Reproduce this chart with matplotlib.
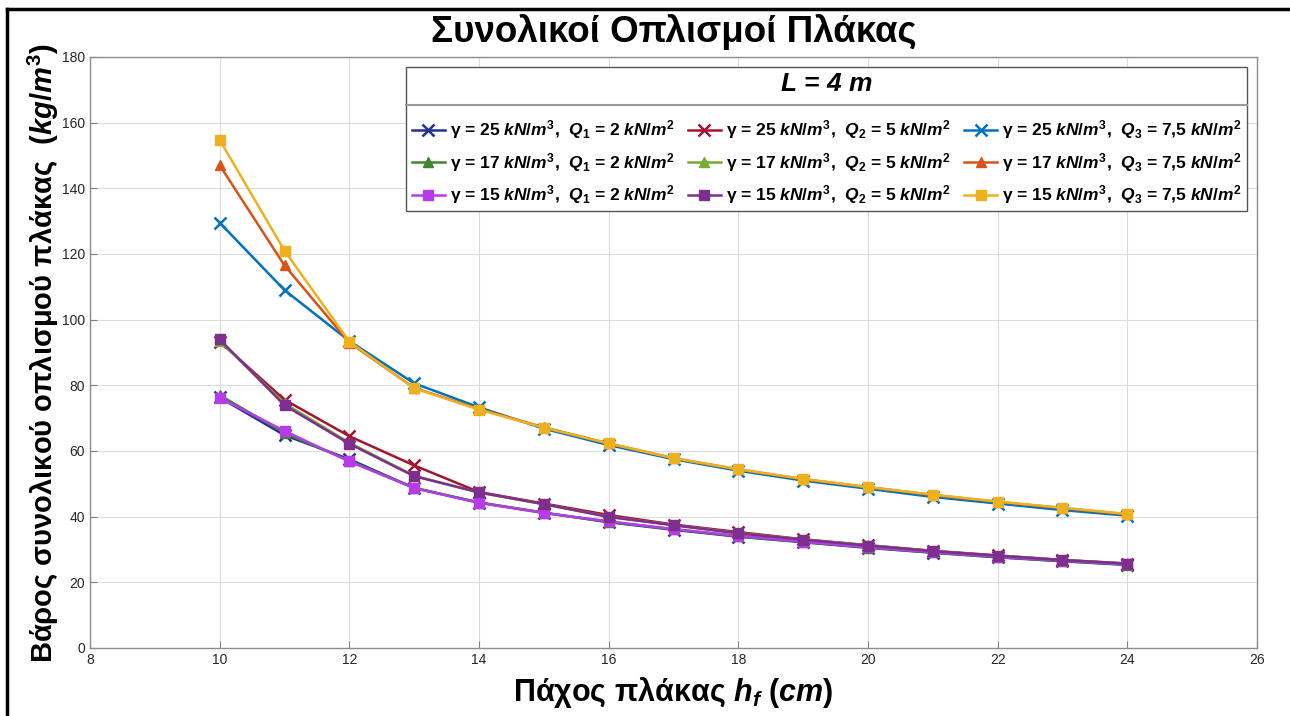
import matplotlib
matplotlib.use("Agg")
import matplotlib.pyplot as plt
from matplotlib.lines import Line2D

plt.rcParams['font.family'] = ['Liberation Sans', 'DejaVu Sans']
plt.rcParams['mathtext.fontset'] = 'custom'
plt.rcParams['mathtext.rm'] = 'Liberation Sans:bold'
plt.rcParams['mathtext.it'] = 'Liberation Sans:italic:bold'
plt.rcParams['mathtext.bf'] = 'Liberation Sans:bold'

hf = [10, 11, 12, 13, 14, 15, 16, 17, 18, 19, 20, 21, 22, 23, 24]

g25_q1 = [76.3, 64.8, 57.5, 48.7, 44.3, 41.2, 38.3, 36.0, 33.9, 32.2, 30.5, 29.0, 27.6, 26.4, 25.3]
g25_q2 = [93.3, 75.6, 64.5, 55.6, 47.5, 44.0, 40.5, 37.6, 35.3, 33.1, 31.3, 29.6, 28.2, 26.8, 25.7]
g25_q3 = [129.5, 109.0, 93.5, 80.6, 73.3, 66.8, 61.8, 57.5, 54.0, 51.0, 48.5, 46.0, 44.0, 42.0, 40.3]
g17_q1 = [77.0, 65.5, 57.0, 48.8, 44.3, 41.2, 38.4, 36.2, 34.0, 32.3, 30.6, 29.1, 27.7, 26.5, 25.4]
g17_q2 = [93.5, 74.5, 62.5, 52.5, 47.3, 43.8, 40.0, 37.4, 35.0, 33.0, 31.3, 29.5, 28.1, 26.8, 25.7]
g17_q3 = [147.0, 116.5, 93.0, 79.2, 72.8, 67.2, 62.3, 57.8, 54.4, 51.4, 49.0, 46.6, 44.5, 42.6, 40.7]
g15_q1 = [76.2, 66.1, 56.8, 48.7, 44.2, 41.1, 38.6, 36.2, 34.2, 32.4, 30.7, 29.2, 27.8, 26.6, 25.5]
g15_q2 = [94.0, 73.9, 62.2, 52.3, 47.4, 43.8, 39.9, 37.4, 34.9, 33.0, 31.2, 29.5, 28.1, 26.8, 25.7]
g15_q3 = [154.7, 121.0, 93.3, 79.1, 72.6, 67.1, 62.3, 57.8, 54.4, 51.5, 49.0, 46.7, 44.6, 42.7, 40.8]

labels = [
    r'γ = 25 $kN/m^3$,  $Q_1$ = 2 $kN/m^2$',
    r'γ = 25 $kN/m^3$,  $Q_2$ = 5 $kN/m^2$',
    r'γ = 25 $kN/m^3$,  $Q_3$ = 7,5 $kN/m^2$',
    r'γ = 17 $kN/m^3$,  $Q_1$ = 2 $kN/m^2$',
    r'γ = 17 $kN/m^3$,  $Q_2$ = 5 $kN/m^2$',
    r'γ = 17 $kN/m^3$,  $Q_3$ = 7,5 $kN/m^2$',
    r'γ = 15 $kN/m^3$,  $Q_1$ = 2 $kN/m^2$',
    r'γ = 15 $kN/m^3$,  $Q_2$ = 5 $kN/m^2$',
    r'γ = 15 $kN/m^3$,  $Q_3$ = 7,5 $kN/m^2$',
]
series = [g25_q1, g25_q2, g25_q3, g17_q1, g17_q2, g17_q3, g15_q1, g15_q2, g15_q3]
colors = ['#24338A', '#A2142F', '#0072BD', '#3E8530', '#77AC30', '#D95319',
          '#B73CE8', '#7E2F8E', '#EDB120']
markers = ['x', 'x', 'x', '^', '^', '^', 's', 's', 's']

fig = plt.figure(figsize=(12.9, 7.16), dpi=100)
ax = fig.add_axes([0.0698, 0.095, 0.9046, 0.8254])

handles = []
for y, c, m, lab in zip(series, colors, markers, labels):
    ms = 8 if m == 'x' else 7
    mew = 1.8 if m == 'x' else 1.0
    h, = ax.plot(hf, y, color=c, marker=m, markersize=ms, markeredgewidth=mew,
                 linewidth=1.8, label=lab)
    handles.append(h)

ax.set_xlim(8, 26)
ax.set_ylim(0, 180)
ax.set_xticks(range(8, 27, 2))
ax.set_yticks(range(0, 181, 20))
ax.grid(True, color='#DCDCDC', linewidth=0.8)
ax.set_axisbelow(True)
ax.tick_params(direction='in', length=5, labelsize=10, colors='#808080',
               labelcolor='#262626', top=False, right=False, width=0.8)
for s in ax.spines.values():
    s.set_color('#8C8C8C')
    s.set_linewidth(1.0)

ax.set_xlabel(r'Πάχος πλάκας $h_f$ $(cm)$', fontsize=22, fontweight='bold', labelpad=6)
ax.set_ylabel(r'Βάρος συνολικού οπλισμού πλάκας  $(kg/m^3)$', fontsize=21,
              fontweight='bold', labelpad=1)
fig.text(0.522, 0.955, 'Συνολικοί Οπλισμοί Πλάκας', fontsize=26.5, fontweight='bold',
         ha='center', va='center')

# row-wise ordering for a 3-column legend (matplotlib fills column by column)
order = [0, 3, 6, 1, 4, 7, 2, 5, 8]
leg = ax.legend([handles[i] for i in order], [labels[i] for i in order],
                ncol=3, loc='upper right', bbox_to_anchor=(0.9914, 0.983),
                borderaxespad=0, fancybox=False, framealpha=1, edgecolor='#555555',
                prop={'size': 12.5, 'weight': 'bold'}, handlelength=1.9,
                handletextpad=0.3, columnspacing=0.75, labelspacing=0.55,
                borderpad=0.3, title=r'$L$ = 4 $m$',
                title_fontproperties={'size': 19, 'weight': 'bold', 'style': 'italic'})
leg.get_frame().set_linewidth(1.0)
leg._legend_box.sep = 16

fig.canvas.draw()
lb = leg.get_window_extent()
tb = leg.get_title().get_window_extent()
ysep = tb.y0 - 9
inv = fig.transFigure.inverted()
p0 = inv.transform((lb.x0, ysep))
p1 = inv.transform((lb.x1, ysep))
fig.add_artist(Line2D([p0[0], p1[0]], [p0[1], p0[1]], color='#999999',
                      linewidth=1.5, transform=fig.transFigure))

# outer frame (top and left edges visible)
fig.add_artist(Line2D([0.0054, 1.0], [0.9874, 0.9874], color='black', linewidth=2.5,
                      transform=fig.transFigure))
fig.add_artist(Line2D([0.0054, 0.0054], [0.0, 0.9874], color='black', linewidth=2.5,
                      transform=fig.transFigure))

fig.savefig('out.png', dpi=100)
